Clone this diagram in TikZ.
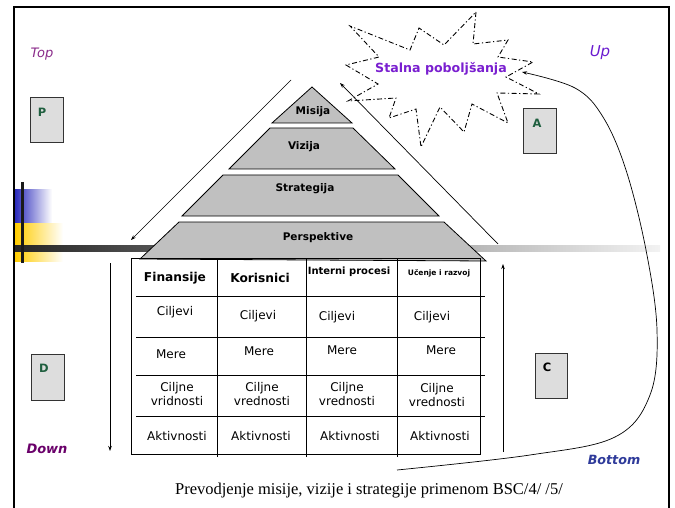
\documentclass[tikz,border=0pt]{standalone}
\usepackage{fontspec}
\setmainfont{DejaVu Sans}
\newfontfamily\capfont{Liberation Serif}
\usetikzlibrary{arrows.meta}
\definecolor{pyr}{HTML}{C0C0C0}
\definecolor{boxfill}{HTML}{DDDDDD}
\definecolor{lettergreen}{HTML}{1F5F3F}
\definecolor{toppurple}{HTML}{8A2A8A}
\definecolor{upviolet}{HTML}{6A1BD0}
\definecolor{downpurple}{HTML}{6A006A}
\definecolor{bottomblue}{HTML}{2E3A9A}
\definecolor{starviolet}{HTML}{7A1FD0}
\definecolor{decoblue}{HTML}{2B2BBB}
\definecolor{decoyellow}{HTML}{FFCC00}
\tikzset{
  layer/.style={draw=black, fill=pyr, line width=0.8pt},
  layertext/.style={font=\fontsize{10.5}{12}\selectfont\bfseries},
  letterbox/.style={draw=black!80, fill=boxfill, line width=1pt},
  letter/.style={font=\fontsize{11.5}{13}\selectfont\bfseries, text=lettergreen},
  grid/.style={line width=0.9pt},
  head/.style={font=\fontsize{12.2}{14}\selectfont\bfseries},
  cell/.style={font=\fontsize{12}{13.5}\selectfont, align=center},
  flow/.style={line width=0.7pt, -{Stealth[length=5pt,width=3.5pt]}},
}
\begin{document}
\begin{tikzpicture}[x=1pt,y=-1pt]
\useasboundingbox (0,0) rectangle (675,508);
\fill[white] (0,0) rectangle (675,508);

% left decoration
\shade[left color=decoblue, right color=white, shading angle=90] (15,190) rectangle (52,223);
\shade[left color=decoyellow, right color=white] (15,223) rectangle (63,261);
\shade[left color=black!85, right color=black!5] (15,245) rectangle (660,251);
\draw[line width=3pt, black!90] (22,182) -- (22,263);

% frame
\draw[line width=2pt] (14,508) -- (14,7) -- (669,7) -- (669,508);

% pyramid
\draw[layer] (312,87) -- (352,123) -- (272,123) -- cycle;
\node[layertext] (misija) at (313,112) {Misija};
\draw[layer] (270,128) -- (353,128) -- (395,169) -- (229,169) -- cycle;
\node[layertext] (vizija) at (304,147) {Vizija};
\draw[layer] (223,175) -- (398,175) -- (439,216) -- (182,216) -- cycle;
\node[layertext] (strategija) at (305,189) {Strategija};
\draw[layer] (179,222) -- (444,222) -- (486,261) -- (140,259) -- cycle;
\node[layertext] (perspektive) at (318,238) {Perspektive};

% pyramid side arrows
\coordinate (lftop) at (291,80);
\coordinate (lfbot) at (131,240);
\coordinate (rtbot) at (498,244);
\coordinate (rttop) at (340,83);
\draw[flow] (lftop) -- (lfbot);
\draw[flow] (rtbot) -- (rttop);

% table
\draw[grid] (131,258) -- (480,258) -- (480,454) -- (131,454) -- cycle;
\foreach \x in {217,306,397} \draw[grid] (\x,258) -- (\x,457);
\foreach \y in {296,337,375,416} \draw[grid] (136,\y) -- (485,\y);

\node[head] (h1) at (175,278) {Finansije};
\node[head] (h2) at (260,278) {Korisnici};
\node[font=\fontsize{10}{12}\selectfont\bfseries] (h3) at (349,272) {Interni procesi};
\node[font=\fontsize{7.5}{9}\selectfont\bfseries] (h4) at (439,273) {Učenje i razvoj};

\node[cell] (c11) at (175,312) {Ciljevi};
\node[cell] (c12) at (258,316) {Ciljevi};
\node[cell] (c13) at (337,317) {Ciljevi};
\node[cell] (c14) at (432,317) {Ciljevi};

\node[cell] (m1) at (171,354) {Mere};
\node[cell] (m2) at (259,351) {Mere};
\node[cell] (m3) at (342,350) {Mere};
\node[cell] (m4) at (441,350) {Mere};

\node[cell] (v1) at (177,394) {Ciljne\\vridnosti};
\node[cell] (v2) at (262,394) {Ciljne\\vrednosti};
\node[cell] (v3) at (347,394) {Ciljne\\vrednosti};
\node[cell] (v4) at (437,395) {Ciljne\\vrednosti};

\node[cell] (a1) at (177,436) {Aktivnosti};
\node[cell] (a2) at (261,436) {Aktivnosti};
\node[cell] (a3) at (350,436) {Aktivnosti};
\node[cell] (a4) at (440,436) {Aktivnosti};

% down / up arrows
\coordinate (dtop) at (110,263);
\coordinate (dbot) at (110,451);
\coordinate (ubot) at (503,452);
\coordinate (utop) at (503,264);
\draw[flow] (dtop) -- (dbot);
\draw[flow] (ubot) -- (utop);

% letter boxes
\draw[letterbox] (30,98) rectangle (63,143);
\node[letter] (P) at (42,112) {P};
\draw[letterbox] (523,109) rectangle (556,154);
\node[letter] (A) at (537,123) {A};
\draw[letterbox] (31,354) rectangle (64,400);
\node[letter] (D) at (44,368) {D};
\draw[letterbox] (535,353) rectangle (567,398);
\node[letter, text=black] (C) at (547,367) {C};

% corner labels
\node[font=\fontsize{13}{15}\selectfont\itshape, text=toppurple] (top) at (42,54) {Top};
\node[font=\fontsize{15}{17}\selectfont\itshape, text=upviolet] (up) at (600,53) {Up};
\node[font=\fontsize{13}{15}\selectfont\bfseries\itshape, text=downpurple] (down) at (47,449) {Down};
\node[font=\fontsize{12.7}{15}\selectfont\bfseries\itshape, text=bottomblue] (bottom) at (614,460) {Bottom};

% star
\draw[line width=0.9pt, dash pattern=on 5pt off 2.5pt on 1.2pt off 2.5pt]
  (476,12) -- (473,44) -- (508,40) -- (498,57) -- (533,62) -- (506,77) -- (539,94)
  -- (497,93) -- (508,123) -- (472,104) -- (464,132) -- (440,107) -- (421,147)
  -- (416,109) -- (389,118) -- (396,98) -- (348,101) -- (378,84) -- (346,65)
  -- (379,57) -- (350,26) -- (410,50) -- (419,28) -- (444,45) -- cycle;
\node[font=\fontsize{12.6}{14}\selectfont\bfseries, text=starviolet] (star) at (441,69) {Stalna poboljšanja};

% feedback curve
\coordinate (cstart) at (397,470);
\coordinate (cend) at (522,72);
\draw[flow] plot[smooth, tension=0.6] coordinates {(cstart) (530,455) (615,437) (650,395) (657,330) (646,250) (626,170) (603,117) (575,88) (cend)};

% caption
\node[font=\capfont\fontsize{16.5}{18}\selectfont] (caption) at (369,491) {Prevodjenje misije, vizije i strategije primenom BSC/4/ /5/};
\end{tikzpicture}
\end{document}
